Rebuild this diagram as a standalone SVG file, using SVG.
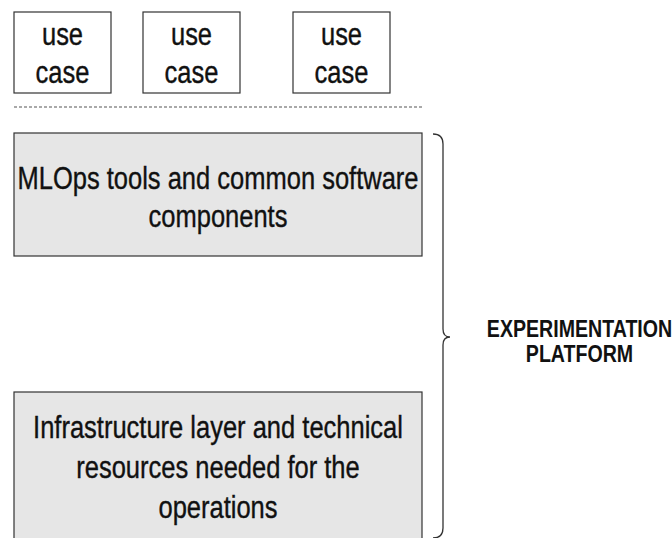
<svg xmlns="http://www.w3.org/2000/svg" width="672" height="538" viewBox="0 0 672 538">
<style>
.uc{fill:#ffffff;stroke:#333333;stroke-width:1.2}
.layer{fill:#e6e6e6;stroke:#333333;stroke-width:1.2}
.t{font-family:"Liberation Sans",Arial,Helvetica,sans-serif;font-size:25.5px;fill:#111111;stroke:#111111;stroke-width:0.3;text-anchor:middle}
.tb{font-family:"Liberation Sans",Arial,Helvetica,sans-serif;font-size:19.6px;font-weight:bold;fill:#111111;text-anchor:middle}
.sep{stroke:#555555;stroke-width:1.2;stroke-dasharray:3 2;fill:none}
.brace{stroke:#333333;stroke-width:1.3;fill:none}
</style>
<rect width="672" height="538" fill="#ffffff"/>
<g id="usecase1">
<rect class="uc" x="14" y="12" width="97" height="81"/>
<text class="t" transform="matrix(1 0 0 1.25 62.5 45)"><tspan x="0" y="0">use</tspan><tspan x="0" y="30.4">case</tspan></text>
</g>
<g id="usecase2">
<rect class="uc" x="143" y="12" width="97" height="81"/>
<text class="t" transform="matrix(1 0 0 1.25 191.5 45)"><tspan x="0" y="0">use</tspan><tspan x="0" y="30.4">case</tspan></text>
</g>
<g id="usecase3">
<rect class="uc" x="293" y="12" width="97" height="81"/>
<text class="t" transform="matrix(1 0 0 1.25 341.5 45)"><tspan x="0" y="0">use</tspan><tspan x="0" y="30.4">case</tspan></text>
</g>
<g id="separator">
<line class="sep" x1="14" y1="107" x2="423" y2="107"/>
</g>
<g id="mlops">
<rect class="layer" x="14" y="133" width="408" height="123"/>
<text class="t" transform="matrix(1 0 0 1.25 218 189)"><tspan x="0" y="0">MLOps tools and common software</tspan><tspan x="0" y="30.4">components</tspan></text>
</g>
<g id="infrastructure">
<rect class="layer" x="14" y="392" width="408" height="160"/>
<text class="t" transform="matrix(1 0 0 1.25 218 438)"><tspan x="0" y="0">Infrastructure layer and technical</tspan><tspan x="0" y="32">resources needed for the</tspan><tspan x="0" y="64">operations</tspan></text>
</g>
<g id="connectors">
<path class="brace" d="M433 134 Q443 134 443 144 L443 329 Q443 337 450 337 Q443 337 443 345 L443 528 Q443 538 433 538"/>
</g>
<g id="platform">
<text class="tb" transform="matrix(1 0 0 1.25 579.5 337)"><tspan x="0" y="0">EXPERIMENTATION</tspan><tspan x="0" y="20">PLATFORM</tspan></text>
</g>
</svg>
